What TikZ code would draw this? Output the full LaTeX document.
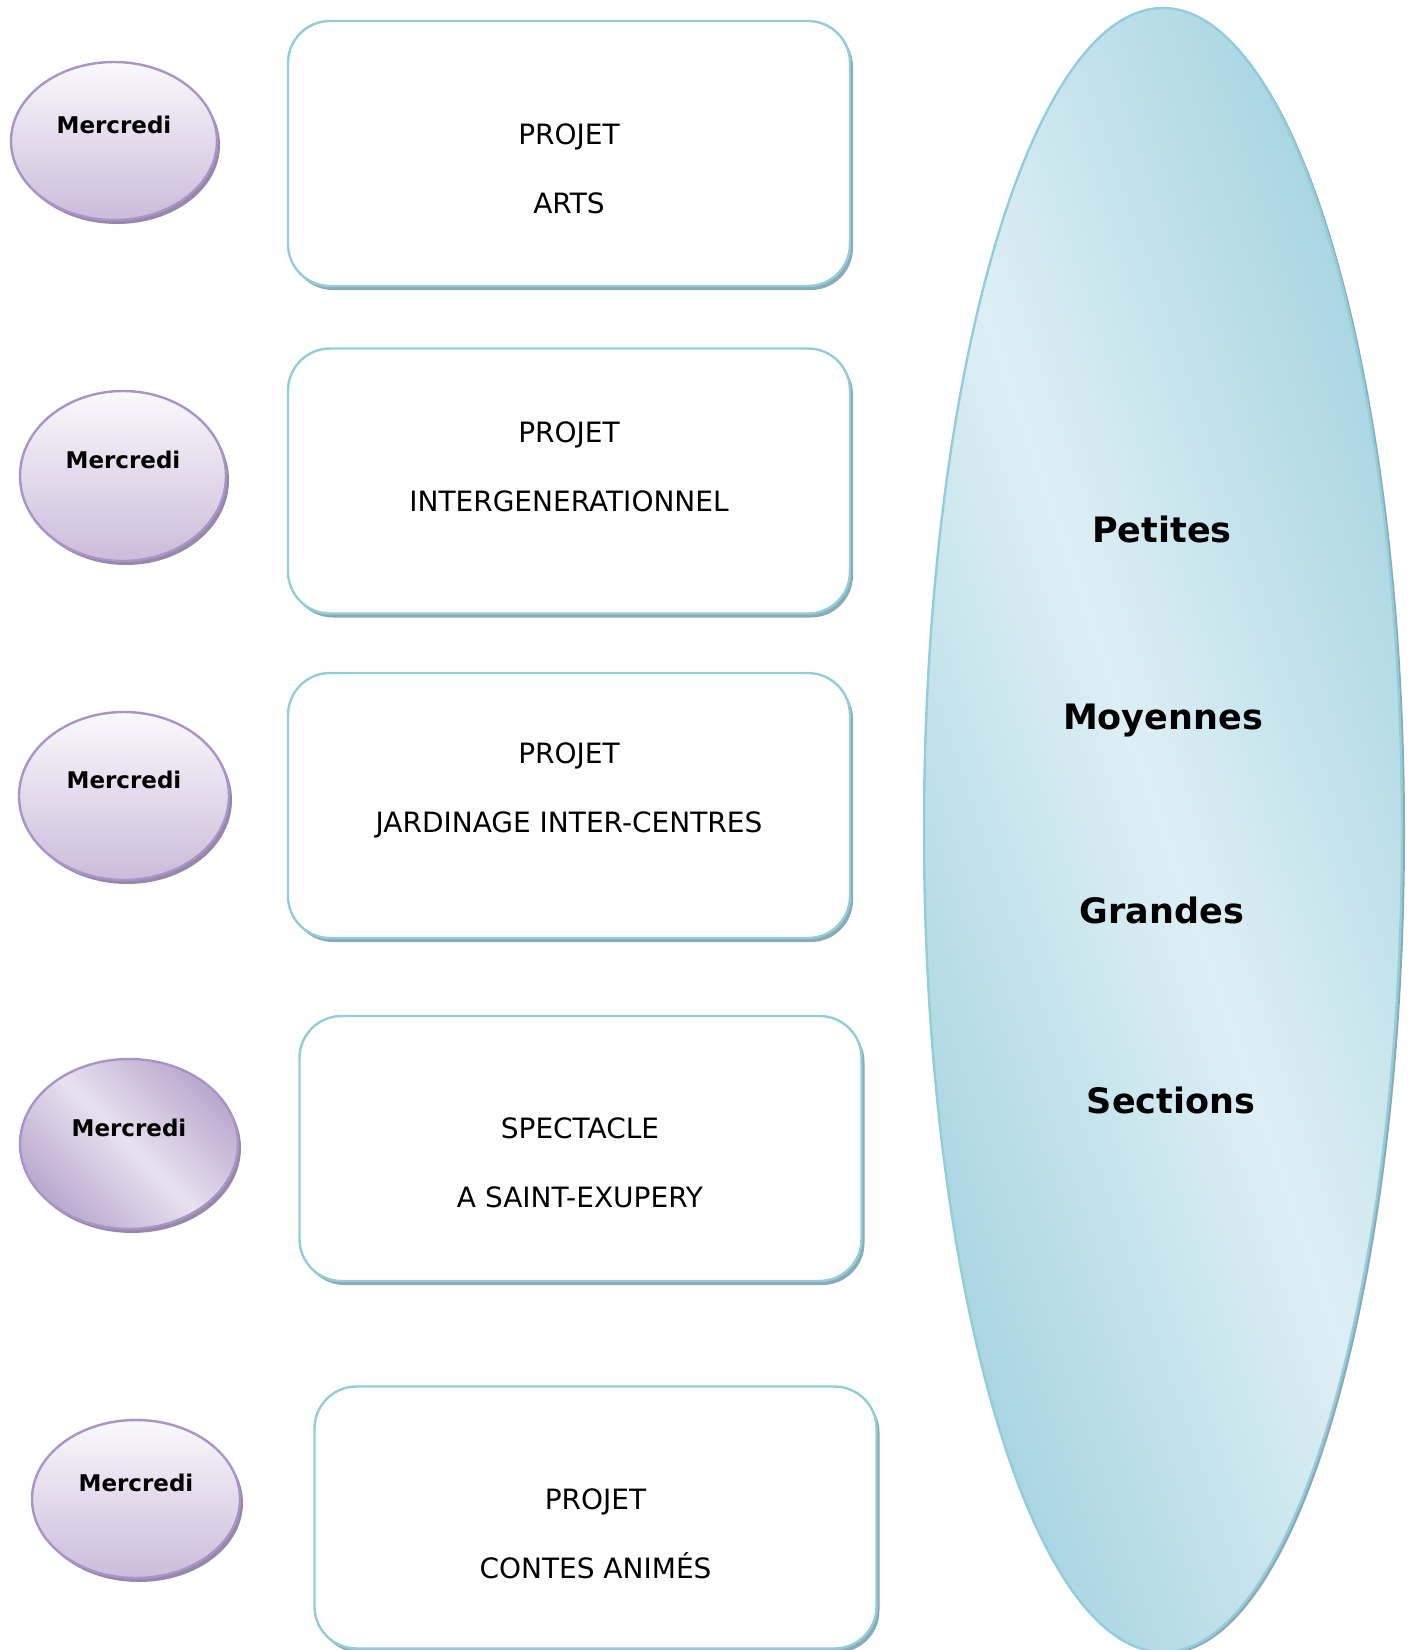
\documentclass[tikz,border=0pt]{standalone}
\usepackage{fontspec}
\setmainfont{DejaVu Sans}
\usepackage{tikz}
\usetikzlibrary{shapes.geometric,  % ellipse nodes
                shadows}           % drop shadows

\definecolor{lavtop}{RGB}{250,249,252}
\definecolor{lavbot}{RGB}{203,188,219}
\definecolor{lavmid}{RGB}{231,225,239}
\definecolor{lavdark}{RGB}{186,168,206}
\definecolor{lavline}{RGB}{168,148,198}
\definecolor{lavshadow}{RGB}{150,136,166}
\definecolor{boxline}{RGB}{146,205,220}
\definecolor{boxshadow}{RGB}{140,170,180}
\definecolor{aqualight}{RGB}{221,239,244}
\definecolor{aquadark}{RGB}{164,211,224}

\begin{document}
\begin{tikzpicture}[x=0.5pt, y=-0.5pt,
    day/.style={ellipse, draw=lavline, line width=1.2pt, inner sep=0pt,
                top color=lavtop, bottom color=lavbot,
                drop shadow={shadow xshift=1.5pt, shadow yshift=-2pt,
                             fill=lavshadow, opacity=1}},
    daytxt/.style={font=\bfseries\fontsize{11.5}{14}\selectfont, yshift=8pt},
    project/.style={rectangle, rounded corners=21pt, draw=boxline,
                    line width=1.2pt, fill=white,
                    minimum width=281pt, minimum height=132.5pt,
                    drop shadow={shadow xshift=1.5pt, shadow yshift=-2pt,
                                 fill=boxshadow, opacity=1}},
    projtxt/.style={align=center, font=\fontsize{14}{34.5}\selectfont},
    sectxt/.style={font=\bfseries\fontsize{17.5}{21}\selectfont}]
  \useasboundingbox (0,0) rectangle (1413,1650);

  % Mercredi ovals
  \node[day, minimum width=103pt, minimum height=79pt] (day1) at (114,141) {};
  \node[day, minimum width=103pt, minimum height=85pt] (day2) at (123,476) {};
  \node[day, minimum width=105pt, minimum height=84pt] (day3) at (124,796) {};
  \node[day, minimum width=109pt, minimum height=85pt,
        left color=lavdark, right color=lavdark, middle color=lavmid,
        shading angle=-45] (day4) at (129,1144) {};
  \node[day, minimum width=104pt, minimum height=79pt] (day5) at (136,1499) {};
  \foreach \n in {1,...,5}
    \node[daytxt] (daytxt\n) at (day\n.center) {Mercredi};

  % project boxes
  \node[project] (proj1) at (569,153.5) {};
  \node[project] (proj2) at (569,481) {};
  \node[project] (proj3) at (569,805.5) {};
  \node[project] (proj4) at (580.5,1148.5) {};
  \node[project, minimum height=131pt] (proj5) at (595.5,1517.5) {};

  \node[projtxt] (projtxt1) at (569,168.5) {PROJET\\ARTS};
  \node[projtxt] (projtxt2) at (569,466.5) {PROJET\\INTERGENERATIONNEL};
  \node[projtxt] (projtxt3) at (569,790.5) {PROJET\\JARDINAGE INTER-CENTRES};
  \node[projtxt] (projtxt4) at (580,1163) {SPECTACLE\\A SAINT-EXUPERY};
  \node[projtxt] (projtxt5) at (595.5,1534) {PROJET\\CONTES ANIMÉS};

  % sections
  \node[ellipse, draw=boxline, line width=1.2pt, inner sep=0pt,
        minimum width=239pt, minimum height=822pt,
        left color=aquadark, right color=aquadark, middle color=aqualight,
        shading angle=-71,
        drop shadow={shadow xshift=1.5pt, shadow yshift=-1pt,
                     fill=boxshadow, opacity=1}] (sections) at (1163,830) {};
  \foreach \w/\x/\y in {Petites/1162/529, Moyennes/1163/721,
                        Grandes/1162/910, Sections/1171/1100}
    \node[sectxt] (sec\w) at (\x,\y) {\w};
\end{tikzpicture}
\end{document}
